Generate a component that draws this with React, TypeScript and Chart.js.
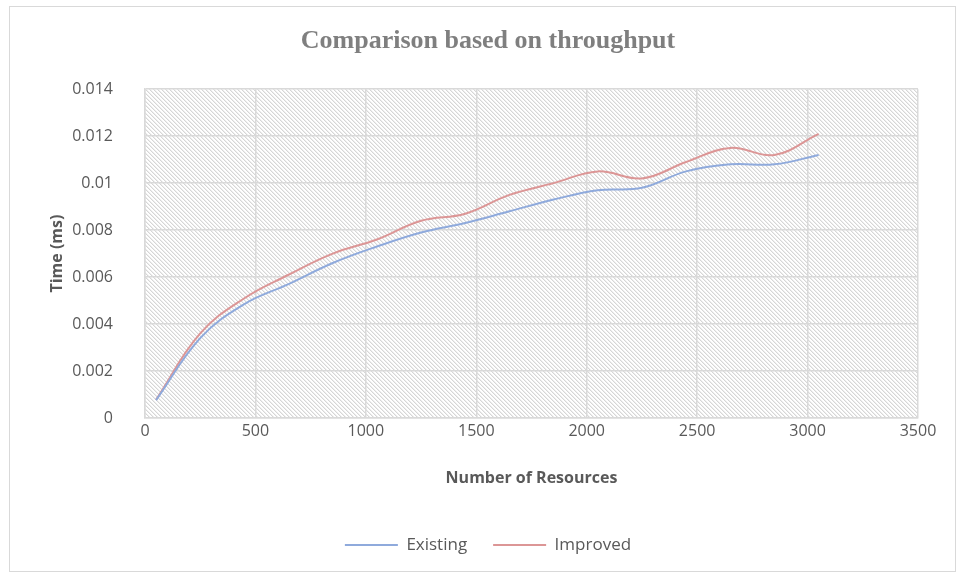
import React, { useEffect, useRef } from "react";
import { Chart, registerables } from "chart.js";

Chart.register(...registerables);

const resources = [50, 250, 450, 650, 850, 1050, 1250, 1450, 1650, 1850, 2050, 2250, 2450, 2650, 2850, 3050];
const existing = [0.00076, 0.0034, 0.00485, 0.0057, 0.0066, 0.0073, 0.0079, 0.0083, 0.0088, 0.0093, 0.0097, 0.0098, 0.0105, 0.0108, 0.0108, 0.0112];
const improved = [0.00078, 0.0036, 0.0051, 0.0061, 0.007, 0.0076, 0.0084, 0.0087, 0.0095, 0.01, 0.0105, 0.0102, 0.0109, 0.0115, 0.0112, 0.0121];
const seriesNames = ["Existing", "Improved"];
const chartTitle = "Comparison based on throughput";
const xTitle = "Number of Resources";
const yTitle = "Time (ms)";

const hatchPlugin = {
  id: "hatchBg",
  beforeDraw(chart: any) {
    const { ctx, chartArea: a } = chart;
    const tile = document.createElement("canvas");
    tile.width = 4;
    tile.height = 4;
    const t = tile.getContext("2d")!;
    t.fillStyle = "#ffffff";
    t.fillRect(0, 0, 4, 4);
    for (let y = 0; y < 4; y++) {
      for (let x = 0; x < 4; x++) {
        const d = (((x - y) % 4) + 4) % 4;
        if (d === 0) {
          t.fillStyle = "#d6d6d6";
          t.fillRect(x, y, 1, 1);
        } else if (d === 1) {
          t.fillStyle = "#eeeeee";
          t.fillRect(x, y, 1, 1);
        }
      }
    }
    const pat = ctx.createPattern(tile, "repeat");
    ctx.save();
    ctx.fillStyle = "#ffffff";
    ctx.fillRect(0, 0, chart.width, chart.height);
    ctx.fillStyle = pat;
    ctx.fillRect(a.left, a.top, a.right - a.left, a.bottom - a.top);
    ctx.strokeStyle = "#d9d9d9";
    ctx.lineWidth = 1;
    ctx.strokeRect(9.5, 6.5, 946, 565);
    ctx.restore();
  },
};

const gridColor = "#d9d9d9";
const textColor = "#595959";
const family = "'Open Sans', sans-serif";

export default function App() {
  const ref = useRef<HTMLCanvasElement | null>(null);

  useEffect(() => {
    document.body.style.margin = "0";
    const canvas = ref.current;
    if (!canvas) return;
    const chart = new Chart(canvas, {
      type: "line",
      data: {
        datasets: [
          {
            label: seriesNames[0],
            data: resources.map((x, i) => ({ x, y: existing[i] })),
            borderColor: "#8faadc",
            backgroundColor: "#8faadc",
            borderWidth: 2,
            pointRadius: 0,
            tension: 0.4,
            fill: false,
          },
          {
            label: seriesNames[1],
            data: resources.map((x, i) => ({ x, y: improved[i] })),
            borderColor: "#dc9696",
            backgroundColor: "#dc9696",
            borderWidth: 2,
            pointRadius: 0,
            tension: 0.4,
            fill: false,
          },
        ],
      },
      options: {
        responsive: false,
        animation: false,
        devicePixelRatio: 1,
        layout: { padding: { left: 20, right: 8, top: 0, bottom: 15.5 } },
        scales: {
          x: {
            type: "linear",
            min: 0,
            max: 3500,
            ticks: {
              stepSize: 500,
              color: textColor,
              font: { family, size: 16 },
              padding: 4,
              callback: (v: any) => String(v),
            },
            grid: { color: gridColor, lineWidth: 1.5, drawTicks: false },
            border: { color: gridColor, width: 1.5 },
            title: {
              display: true,
              text: xTitle,
              color: textColor,
              font: { family, size: 16, weight: "bold" },
              padding: { top: 0, bottom: 22.9 },
            },
            afterFit: (s: any) => {
              s.height = 92.5;
            },
          },
          y: {
            type: "linear",
            position: "left",
            min: 0,
            max: 0.014,
            ticks: {
              stepSize: 0.002,
              color: textColor,
              font: { family, size: 16 },
              padding: 32,
              callback: (v: any) => String(parseFloat(Number(v).toFixed(4))),
            },
            grid: { color: gridColor, lineWidth: 1.5, drawTicks: false },
            border: { color: gridColor, width: 1.5 },
            title: {
              display: true,
              text: yTitle,
              color: textColor,
              font: { family, size: 16, weight: "bold" },
              padding: { top: 27.4, bottom: 0 },
            },
            afterFit: (s: any) => {
              s.width = 125;
            },
          },
          y2: {
            type: "linear",
            position: "right",
            display: true,
            grid: { display: false, drawTicks: false },
            ticks: { display: false },
            border: { display: false },
            afterFit: (s: any) => {
              s.width = 38;
            },
          },
        },
        plugins: {
          title: {
            display: true,
            text: chartTitle,
            color: "#7f7f7f",
            font: { family: "'Liberation Serif', serif", size: 26, weight: "bold" },
            padding: { top: 26, bottom: 32 },
          },
          legend: {
            display: true,
            position: "bottom",
            labels: {
              usePointStyle: true,
              pointStyle: "line",
              pointStyleWidth: 53,
              color: textColor,
              font: { family, size: 17 },
              padding: 26,
            },
          },
          tooltip: { enabled: false },
        },
      },
      plugins: [hatchPlugin],
    } as any);
    return () => chart.destroy();
  }, []);

  return (
    <div style={{ width: 964, height: 579 }}>
      <canvas ref={ref} width={964} height={579} />
    </div>
  );
}
